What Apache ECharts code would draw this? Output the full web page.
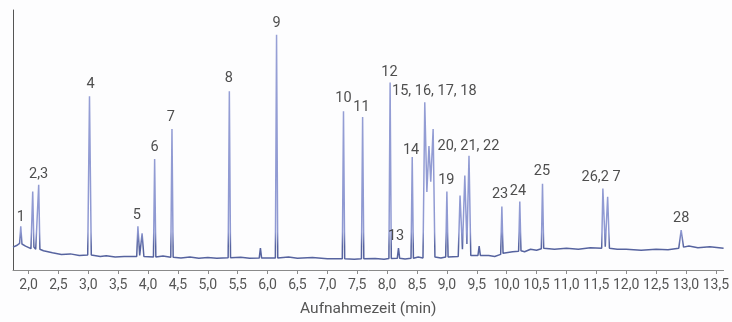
<!DOCTYPE html>
<html>
<head>
<meta charset="utf-8">
<script src="https://cdn.jsdelivr.net/npm/echarts@6/dist/echarts.min.js"></script>
<style>
  html, body { margin: 0; padding: 0; background: #fdfdfe; }
  #main { width: 732px; height: 322px; }
</style>
</head>
<body>
<div id="main"></div>
<script>
// Chromatogramm: Zeit (min) und Signal (relative Einheiten, 0..100)
var traceTime = [
  1.74, 1.80, 1.85, 1.87, 1.89, 1.95, 2.04, 2.07, 2.09, 2.12, 2.15, 2.17, 2.19, 2.25,
  2.40, 2.55, 2.70, 2.85, 2.99, 3.02, 3.05, 3.20, 3.30, 3.45, 3.60, 3.81, 3.83, 3.86, 3.88, 3.90, 3.93,
  4.09, 4.11, 4.13, 4.25, 4.38, 4.40, 4.42, 4.55, 4.70, 4.85, 5.00, 5.15, 5.34, 5.36, 5.38, 5.55,
  5.70, 5.86, 5.88, 5.90, 6.13, 6.15, 6.17, 6.35, 6.50, 6.75, 7.00, 7.25, 7.27, 7.29, 7.45, 7.57,
  7.59, 7.61, 7.80, 7.95,
  8.03, 8.05, 8.07, 8.17, 8.19, 8.21, 8.30, 8.40, 8.42, 8.44, 8.52, 8.60, 8.63, 8.665, 8.70, 8.73,
  8.77, 8.80, 8.90,
  8.98, 9.00, 9.02, 9.19, 9.22, 9.26, 9.30, 9.335, 9.37, 9.40, 9.52, 9.54, 9.56, 9.70,
  9.80, 9.90, 9.92, 9.94, 10.10, 10.20, 10.22, 10.24, 10.30, 10.40, 10.50, 10.58, 10.60, 10.62,
  10.80, 11.00, 11.20, 11.40, 11.59, 11.61, 11.65, 11.69, 11.72, 11.85, 12.00, 12.25, 12.50,
  12.70, 12.88, 12.92, 12.96, 13.05, 13.20, 13.40, 13.63
];
var traceSignal = [
  8.8, 9.4, 10.2, 16.8, 10.0, 9.2, 8.2, 30.2, 8.8, 8.0, 8.2, 32.8, 8.0, 7.4,
  6.6, 6.0, 6.2, 5.6, 5.8, 66.8, 5.8, 5.2, 5.5, 5.0, 5.2, 5.2, 16.8, 5.6, 5.4, 14.1, 5.2,
  5.0, 42.7, 5.0, 5.4, 4.9, 54.2, 4.9, 4.6, 5.0, 4.5, 4.8, 4.5, 4.7, 68.7, 4.7, 4.9,
  4.5, 4.6, 8.4, 4.6, 4.6, 90.5, 4.6, 5.0, 4.5, 4.8, 4.3, 4.3, 61.1, 4.3, 4.1, 4.3,
  58.8, 4.3, 4.4, 4.1,
  4.4, 72.1, 4.4, 4.5, 8.4, 4.5, 4.2, 4.5, 43.5, 4.5, 5.0, 4.6, 64.5, 30.0, 47.7, 34.0,
  54.2, 5.0, 4.6,
  5.0, 30.2, 5.0, 5.2, 28.6, 8.0, 36.3, 10.0, 43.9, 5.6, 5.6, 9.2, 5.6, 5.6,
  5.2, 6.0, 24.4, 6.4, 7.0, 7.2, 26.3, 7.4, 7.0, 8.0, 7.6, 8.2, 33.2, 8.4,
  8.0, 8.4, 8.0, 8.6, 8.4, 31.3, 9.0, 28.2, 8.4, 8.0, 8.0, 7.6, 8.0,
  7.8, 8.4, 15.3, 8.8, 9.2, 8.6, 8.9, 8.4
];

var tickValues = [2.0, 2.5, 3.0, 3.5, 4.0, 4.5, 5.0, 5.5, 6.0, 6.5, 7.0, 7.5, 8.0,
  8.5, 9.0, 9.5, 10.0, 10.5, 11.0, 11.5, 12.0, 12.5, 13.0, 13.5];
var tickLabels = ['2,0', '2,5', '3,0', '3,5', '4,0', '4,5', '5,0', '5,5', '6,0', '6,5',
  '7,0', '7,5', '8,0', '8,5', '9,0', '9,5', '10,0', '10,5', '11,0', '11,5', '12,0',
  '12,5', '13,0', '13,5'];

// Peak-Beschriftungen
var peakLabels = ['1', '2,3', '4', '5', '6', '7', '8', '9', '10', '11', '12',
  '15, 16, 17, 18', '14', '20, 21, 22', '19', '13', '23', '24', '25', '26,2 7', '28'];
var peakLabelTime = [1.87, 2.17, 3.04, 3.81, 4.11, 4.38, 5.35, 6.15, 7.27, 7.57, 8.04,
  8.79, 8.40, 9.36, 8.99, 8.15, 9.89, 10.19, 10.59, 11.58, 12.92];
var peakLabelSignal = [20.2, 36.6, 71.4, 21.0, 47.3, 58.8, 73.7, 95.0, 66.0, 62.6, 76.0,
  68.7, 46.2, 47.7, 34.4, 13.0, 29.0, 30.2, 37.8, 35.5, 19.8];

var traceData = traceTime.map(function (t, i) { return [t, traceSignal[i]]; });
var labelData = peakLabels.map(function (name, i) {
  return { name: name, value: [peakLabelTime[i], peakLabelSignal[i]] };
});

var myChart = echarts.init(document.getElementById('main'));
var option = {
  animation: false,
  backgroundColor: '#fdfdfe',
  grid: { left: 13, right: 7, top: 10, bottom: 50 },
  xAxis: {
    type: 'value',
    min: 1.74,
    max: 13.63,
    name: 'Aufnahmezeit (min)',
    nameLocation: 'middle',
    nameGap: 31,
    nameTextStyle: { color: '#555', fontSize: 15.5, fontFamily: 'Roboto' },
    axisLine: { show: true, lineStyle: { color: '#8a8a8a', width: 1 } },
    axisTick: { show: true, length: 4, customValues: tickValues, lineStyle: { color: '#8a8a8a' } },
    axisLabel: {
      customValues: tickValues,
      margin: 8,
      color: '#555',
      fontSize: 14,
      fontFamily: 'Roboto',
      formatter: function (v) {
        var i = tickValues.indexOf(v);
        return i >= 0 ? tickLabels[i] : '';
      }
    },
    splitLine: { show: false }
  },
  yAxis: {
    type: 'value',
    min: 0,
    max: 100,
    axisLine: { show: true, lineStyle: { color: '#555', width: 1 } },
    axisTick: { show: false },
    axisLabel: { show: false },
    splitLine: { show: false }
  },
  series: [
    {
      type: 'line',
      data: traceData,
      symbol: 'none',
      lineStyle: {
        width: 1.5,
        // peaks lighter lavender, baseline darker navy
        color: new echarts.graphic.LinearGradient(0, 0, 0, 322, [
          { offset: 0, color: '#98a1d6' },
          { offset: 0.72, color: '#8f99d2' },
          { offset: 0.765, color: '#56639f' },
          { offset: 1, color: '#56639f' }
        ], true)
      },
      z: 2
    },
    {
      type: 'scatter',
      data: labelData,
      symbolSize: 0,
      label: {
        show: true,
        position: 'inside',
        formatter: '{b}',
        color: '#222',
        fontSize: 14.5,
        fontFamily: 'Roboto'
      },
      z: 3
    }
  ]
};
myChart.setOption(option);
</script>
</body>
</html>
